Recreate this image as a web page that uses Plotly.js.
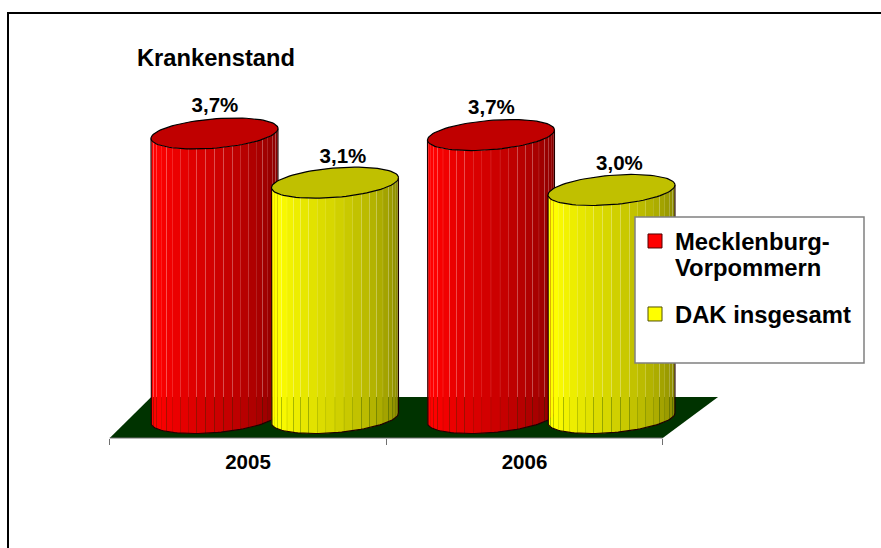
<!DOCTYPE html>
<html>
<head>
<meta charset="utf-8">
<script src="https://cdn.plot.ly/plotly-3.0.1.min.js"></script>
<style>html,body{margin:0;padding:0;background:#fff;overflow:hidden}</style>
</head>
<body>
<div id="chart" style="width:881px;height:548px"></div>
<script>
// ---- data ----
var categories = ['2005', '2006'];
var seriesMV = [3.70, 3.68];
var seriesDAK = [3.06, 2.965];
var seriesNameMV = ['Mecklenburg-', 'Vorpommern'];
var seriesNameDAK = 'DAK insgesamt';
var chartTitle = 'Krankenstand';

// ---- styles ----
var FONT = 'Liberation Sans, Arial, sans-serif';
var redRamp = [[0, [255,0,0]], [0.15, [255,0,0]], [0.3, [234,0,0]], [0.5, [208,0,0]], [0.75, [168,0,0]], [1, [125,0,0]]];
var yellowRamp = [[0, [255,255,0]], [0.15, [255,255,0]], [0.3, [236,236,0]], [0.5, [212,212,0]], [0.75, [172,172,0]], [1, [125,125,0]]];
var PXX = 276.5, PXY = 76.9;            // pixels per category, pixels per percent
var RX = 63.5 / PXX, SK = 5 / PXY, RB = 14.7 / PXY;  // cylinder ellipse shape
var offsets = [-0.1212, 0.3146];
var STRIPS = 22, GAP = 0.06 / PXX;

function rampColor(r, f) {
  for (var i = 1; i < r.length; i++) {
    if (f <= r[i][0]) {
      var t = (f - r[i-1][0]) / (r[i][0] - r[i-1][0]);
      var c = r[i-1][1].map(function (a, k) { return Math.round(a + (r[i][1][k] - a) * t); });
      return 'rgb(' + c.join(',') + ')';
    }
  }
  return 'rgb(' + r[r.length-1][1].join(',') + ')';
}

var traces = [];

// floor
traces.push({x: [-0.5, -0.35, 1.70, 1.5, -0.5], y: [-0.26, 0.273, 0.273, -0.26, -0.26],
  mode: 'none', fill: 'toself', fillcolor: '#003300', showlegend: false, hoverinfo: 'skip'});

// legend carriers (hidden behind the cylinder tops)
function legendTrace(vals, off, name, col, border, legendId) {
  return {x: vals.map(function (v, i) { return i + off; }), y: vals, mode: 'markers', name: name,
    legend: legendId, hoverinfo: 'skip',
    marker: {symbol: 'square', size: 14, color: col, line: {color: border, width: 1}}};
}
traces.push(legendTrace(seriesMV, offsets[0], seriesNameMV[0], '#ff0000', '#500000', 'legend'));
traces.push(legendTrace(seriesMV, offsets[0], seriesNameMV[1], '#ffffff', '#ffffff', 'legend2'));
traces.push(legendTrace(seriesDAK, offsets[1], seriesNameDAK, '#ffff00', '#505000', 'legend3'));

function cylinder(cx, val, ramp, topCol) {
  var i, j, xs, ys;
  for (i = 0; i < STRIPS; i++) {
    var a = Math.PI - Math.PI * i / STRIPS, b = Math.PI - Math.PI * (i + 1) / STRIPS;
    var xa = cx + RX * Math.cos(a) + GAP, xb = cx + RX * Math.cos(b) - GAP;
    xs = []; ys = [];
    for (j = 0; j <= 4; j++) {
      var ta = Math.acos(Math.max(-1, Math.min(1, (xa + (xb - xa) * j / 4 - cx) / RX)));
      xs.push(cx + RX * Math.cos(ta)); ys.push(val + SK * Math.cos(ta) - RB * Math.sin(ta));
    }
    for (j = 4; j >= 0; j--) {
      var tb = Math.acos(Math.max(-1, Math.min(1, (xa + (xb - xa) * j / 4 - cx) / RX)));
      xs.push(cx + RX * Math.cos(tb)); ys.push(SK * Math.cos(tb) - RB * Math.sin(tb));
    }
    traces.push({x: xs, y: ys, mode: 'none', fill: 'toself',
      fillcolor: rampColor(ramp, (i + 0.5) / STRIPS), showlegend: false, hoverinfo: 'skip'});
  }
  // outline: left side, bottom arc, right side
  xs = [cx - RX]; ys = [val - SK];
  for (j = 0; j <= 60; j++) {
    var t = Math.PI - Math.PI * j / 60;
    xs.push(cx + RX * Math.cos(t)); ys.push(SK * Math.cos(t) - RB * Math.sin(t));
  }
  xs.push(cx + RX); ys.push(val + SK);
  traces.push({x: xs, y: ys, mode: 'lines', line: {color: '#200000', width: 1.1},
    showlegend: false, hoverinfo: 'skip'});
  // top ellipse
  xs = []; ys = [];
  for (j = 0; j <= 90; j++) {
    var u = 2 * Math.PI * j / 90;
    xs.push(cx + RX * Math.cos(u)); ys.push(val + SK * Math.cos(u) - RB * Math.sin(u));
  }
  traces.push({x: xs, y: ys, mode: 'lines', fill: 'toself', fillcolor: topCol,
    line: {color: '#000000', width: 1.2}, showlegend: false, hoverinfo: 'skip'});
}
categories.forEach(function (c, i) {
  cylinder(i + offsets[0], seriesMV[i], redRamp, '#c00000');
  cylinder(i + offsets[1], seriesDAK[i], yellowRamp, '#c0c000');
});

// value labels
function fmt(v) { return v.toFixed(1).replace('.', ',') + '%'; }
function labelTrace(vals, off, dx, dy) {
  return {x: vals.map(function (v, i) { return i + off + dx / PXX; }),
    y: vals.map(function (v) { return v + dy / PXY; }),
    text: vals.map(fmt), mode: 'text', textposition: 'middle center', cliponaxis: false,
    textfont: {family: FONT, size: 20.5, color: '#000', weight: 700},
    showlegend: false, hoverinfo: 'skip'};
}
traces.push(labelTrace(seriesMV, offsets[0], 0.5, 26.5));
traces.push(labelTrace(seriesDAK, offsets[1], 8, 24.8));

var H = 438;
function py(p) { return (H - p) / H; }
function px(p) { return p / 881; }
function legendAt(y) {
  return {x: px(635), y: py(y), xanchor: 'left', yanchor: 'middle', bgcolor: 'rgba(0,0,0,0)', borderwidth: 0,
    font: {family: FONT, size: 23.8, color: '#000', weight: 700}, itemclick: false, itemdoubleclick: false, itemwidth: 30};
}
var layout = {
  width: 881, height: 548,
  margin: {l: 0, r: 0, t: 0, b: 110, pad: 0},
  paper_bgcolor: '#fff', plot_bgcolor: 'rgba(0,0,0,0)',
  hovermode: false,
  title: {text: chartTitle, x: 137 / 881, xanchor: 'left', xref: 'paper', y: 1 - 58 / 548, yanchor: 'middle',
    font: {family: FONT, size: 23.7, color: '#000', weight: 700}},
  xaxis: {range: [-248 / PXX, (881 - 248) / PXX], tickmode: 'array', tickvals: [0, 1], ticktext: categories,
    ticks: '', showgrid: false, zeroline: false, showline: false, fixedrange: true, ticklabelstandoff: 9,
    tickfont: {family: FONT, size: 20.5, color: '#000', weight: 700},
    minor: {tickmode: 'array', tickvals: [-0.5, 0.5, 1.5], ticks: 'outside', ticklen: 6, tickwidth: 1, tickcolor: '#707070', showgrid: false}},
  yaxis: {range: [-0.26, 418 / PXY], visible: false, fixedrange: true},
  showlegend: true,
  legend: legendAt(241),
  legend2: legendAt(267),
  legend3: legendAt(314),
  shapes: [
    {type: 'line', xref: 'paper', yref: 'paper', x0: px(7), x1: 1, y0: py(13), y1: py(13), line: {color: '#000', width: 2}},
    {type: 'line', xref: 'paper', yref: 'paper', x0: px(8), x1: px(8), y0: py(13), y1: py(548), line: {color: '#000', width: 2}},
    {type: 'line', xref: 'x', yref: 'paper', x0: -0.5, x1: 1.5, y0: 0, y1: 0, line: {color: '#707070', width: 1.2}},
    {type: 'rect', xref: 'paper', yref: 'paper', x0: px(635), x1: px(864), y0: py(217), y1: py(363), layer: 'above',
      fillcolor: '#fff', line: {color: '#808080', width: 1.5}}
  ]
};
Plotly.newPlot('chart', traces, layout, {displayModeBar: false, responsive: false});
</script>
</body>
</html>
